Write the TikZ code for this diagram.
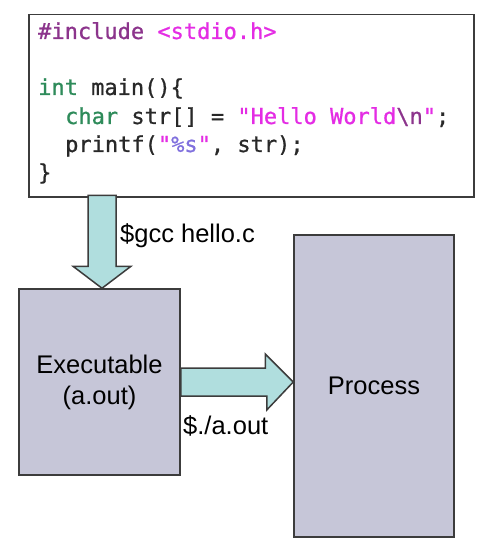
\documentclass[tikz,border=0pt]{standalone}
\usepackage{fontspec}
\usetikzlibrary{calc}
\newfontfamily\codefont[FakeBold=0.8]{DejaVu Sans Mono}
\newfontfamily\labelfont{Liberation Sans}

\definecolor{incpurple}{RGB}{140,52,140}
\definecolor{strmagenta}{RGB}{228,44,228}
\definecolor{kwgreen}{RGB}{46,139,90}
\definecolor{fmtblue}{RGB}{128,112,222}
\definecolor{codegray}{RGB}{40,40,40}
\definecolor{boxfill}{RGB}{198,198,216}
\definecolor{arrowfill}{RGB}{176,222,222}
\definecolor{edgegray}{RGB}{60,60,60}

\begin{document}
\begin{tikzpicture}[x=1pt, y=-1pt,
  codeline/.style={anchor=base west, inner sep=0pt, text=codegray,
    font=\codefont\fontsize{22}{28}\selectfont},
  flowbox/.style={draw=edgegray, line width=1.5pt, fill=boxfill, align=center,
    font=\labelfont\fontsize{25.5}{31}\selectfont},
  blockarrow/.style={draw=edgegray, line width=1.5pt, fill=arrowfill, line join=miter},
  cmdlabel/.style={anchor=base west, inner sep=0pt,
    font=\labelfont\fontsize{25.5}{31}\selectfont}]

\useasboundingbox (0,0) rectangle (476,548);

% source code
\node[draw=edgegray, line width=1.5pt, fill=white, anchor=north west,
  minimum width=445, minimum height=182] (code) at (28,14) {};

\node[codeline] (incline) at (38,39) {{\color{incpurple}\#include} {\color{strmagenta}<stdio.h>}};
\node[codeline] (mainline) at (38,95) {{\color{kwgreen}int} main()\{};
\node[codeline] (strline) at (65,124) {{\color{kwgreen}char} str[] = {\color{strmagenta}"Hello World}{\color{incpurple}\textbackslash n}{\color{strmagenta}"};};
\node[codeline] (printline) at (65,152) {printf({\color{strmagenta}"}{\color{fmtblue}\%s}{\color{strmagenta}"}, str);};
\node[codeline] (closeline) at (38,180) {\}};

% executable and process
\node[flowbox, minimum width=161, minimum height=186] (exe) at (99.5,382) {Executable\\(a.out)};
\node[flowbox, minimum width=160, minimum height=302] (proc) at (374,386) {Process};

% compile arrow
\coordinate (gcctip) at ($(exe.north)+(2.5,0)$);
\draw[blockarrow] (gcctip) -- ++(29,-22) -- ++(-15,0) -- ++(0,-71) -- ++(-28,0)
  -- ++(0,71) -- ++(-15,0) -- cycle;
\node[cmdlabel] (gcclabel) at (120,242) {\$gcc hello.c};

% run arrow
\coordinate (runtip) at (exe.east -| proc.west);
\draw[blockarrow] (runtip) -- ++(-28,-28) -- ++(0,14) -- (exe.east |- 0,368)
  -- (exe.east |- 0,396) -- ++(86,0) -- ++(0,14) -- cycle;
\node[cmdlabel] (runlabel) at (183,434) {\$./a.out};

\end{tikzpicture}
\end{document}
